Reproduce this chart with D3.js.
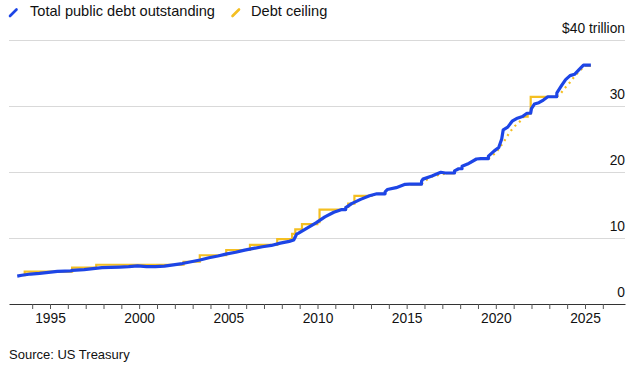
<!DOCTYPE html>
<html>
<head>
<meta charset="utf-8">
<script src="https://cdn.jsdelivr.net/npm/d3@7"></script>
<style>
  html, body { margin: 0; padding: 0; background: #fff; }
  svg { display: block; font-family: "Liberation Sans", Arial, sans-serif; }
</style>
</head>
<body>
<svg id="chart" width="633" height="365"></svg>
<script>
// ---- Data (trillions of US$) ----
const debtDates = ["1993-03","1993-06","1993-12","1994-06","1994-12","1995-06","1995-11","1996-03","1996-04","1996-12",
  "1997-06","1997-12","1998-06","1998-12","1999-06","1999-12","2000-06","2000-12","2001-06","2001-12",
  "2002-06","2002-12","2003-06","2003-12","2004-06","2004-12","2005-06","2005-12","2006-06","2006-12",
  "2007-06","2007-12","2008-06","2008-09","2008-11","2008-12","2009-06","2009-12","2010-06","2010-12",
  "2011-05","2011-08-01","2011-08-04","2011-12","2012-06","2012-12","2013-05","2013-10-16","2013-10-18","2013-12",
  "2014-06","2014-12","2015-03","2015-10-31","2015-11-03","2015-12","2016-06","2016-12","2017-03","2017-09-07",
  "2017-09-09","2017-12","2018-02-08","2018-02-10","2018-06","2018-12","2019-03","2019-08-01","2019-08-03","2019-12",
  "2020-03","2020-05","2020-06","2020-09","2020-12","2021-03","2021-07","2021-10","2021-12-15","2021-12-31",
  "2022-03","2022-06","2022-09","2022-12","2023-01","2023-06-02","2023-06-05","2023-09","2023-12","2024-03",
  "2024-06","2024-09","2024-12","2025-01","2025-05"];
const debtValues = [4.23,4.35,4.54,4.65,4.80,4.95,4.99,5.00,5.10,5.22,
  5.35,5.50,5.55,5.60,5.65,5.77,5.65,5.66,5.73,5.94,
  6.13,6.40,6.67,7.00,7.27,7.60,7.84,8.17,8.42,8.68,
  8.87,9.23,9.49,9.70,10.60,10.70,11.50,12.30,13.20,13.90,
  14.29,14.29,14.60,15.20,15.85,16.40,16.70,16.70,17.00,17.35,
  17.63,18.14,18.15,18.15,18.60,18.92,19.38,19.96,19.85,19.85,
  20.16,20.49,20.50,20.86,21.20,21.97,22.03,22.03,22.40,23.20,
  23.70,25.00,26.40,26.80,27.70,28.10,28.40,28.90,28.90,29.60,
  30.30,30.50,30.90,31.40,31.40,31.40,32.00,33.00,34.00,34.60,
  34.80,35.50,36.20,36.20,36.20];

// Debt ceiling: statutory limit steps (null = suspended)
const ceilingDates = ["1993-04","1993-08","1996-03-29","1997-08-05","2002-06-28","2003-05-27","2004-11-19","2006-03-20",
  "2007-09-29","2008-07-30","2008-10-03","2009-02-17","2009-12-28","2010-02-12","2011-08-02","2011-09-22",
  "2012-01-27","2013-02-04","2013-05-19","2013-10-17","2015-03-16","2015-11-02","2017-03-16",
  "2017-09-08","2019-03-02","2019-08-02","2021-08-01","2021-10-14","2021-12-16","2023-06-03","2025-01-02","2025-05"];
const ceilingValues = [4.37,4.90,5.50,5.95,6.40,7.384,8.184,8.965,
  9.815,10.615,11.315,12.104,12.394,14.294,14.694,15.194,
  16.394,null,16.699,null,18.113,null,19.809,
  null,22.03,null,28.401,28.881,31.381,null,36.10,36.10];

// Debt ceiling while suspended (dotted)
const suspDates = [["2015-11-02","2016-02","2016-06","2017-03-16"],
  ["2019-08-02","2020-01","2020-04","2020-07","2020-10","2021-01","2021-06","2021-08-01"],
  ["2023-06-03","2023-09","2023-11","2024-03","2024-06","2024-12","2025-01-02"]];
const suspValues = [[18.15,18.75,19.30,19.80],
  [22.03,22.90,23.80,24.80,25.90,26.80,27.80,28.40],
  [31.40,32.00,32.60,33.60,34.50,35.90,36.10]];

const yTicks = [0,10,20,30,40];
const yTickLabels = ["0","10","20","30","$40 trillion"];
const xTickYears = d3.range(1994, 2027);
const xLabelYears = [1995,2000,2005,2010,2015,2020,2025];
const legendLabels = ["Total public debt outstanding","Debt ceiling"];
const sourceText = "Source: US Treasury";

// ---- Setup ----
const BLUE = "#1d45e6", YELLOW = "#f4bf22";
const parse = s => s.length === 7 ? d3.timeParse("%Y-%m")(s) : d3.timeParse("%Y-%m-%d")(s);
const svg = d3.select("#chart");

const x = d3.scaleTime().domain([new Date(1995,0,1), new Date(2025,0,1)]).range([50,585]);
x.domain([x.invert(9), x.invert(625)]).range([9,625]);
const y = d3.scaleLinear().domain([0,40]).range([304,40]);

// gridlines + y labels
const g = svg.append("g");
yTicks.forEach((t,i) => {
  if (t > 0) {
    g.append("line").attr("x1",9).attr("x2",625).attr("y1",y(t)).attr("y2",y(t))
      .attr("stroke","#d9d9d9").attr("stroke-width",1).attr("shape-rendering","crispEdges");
  }
  g.append("text").attr("x",625).attr("y",y(t)-7).attr("text-anchor","end")
    .attr("font-size",13.8).attr("fill","#111").text(yTickLabels[i]);
});

// x axis
const xAxis = d3.axisBottom(x)
  .tickValues(xTickYears.map(yr => new Date(yr,0,1)))
  .tickSize(5).tickSizeOuter(0)
  .tickFormat(d => xLabelYears.includes(d.getFullYear()) ? d.getFullYear() : "");
const ax = svg.append("g").attr("transform","translate(0,304)").call(xAxis);
ax.select(".domain").attr("stroke","#333");
ax.selectAll(".tick line").attr("stroke","#555");
ax.selectAll(".tick text").attr("font-size",13.8).attr("fill","#111")
  .attr("font-family","Liberation Sans, Arial, sans-serif").attr("dy","0.95em").attr("y",6);

// ceiling step line
const ceil = ceilingDates.map((d,i) => ({date: parse(d), v: ceilingValues[i]}));
const stepLine = d3.line().x(d => x(d.date)).y(d => y(d.v)).curve(d3.curveStepAfter);
const segs = [];
let cur = [];
ceil.forEach(d => {
  if (d.v === null) { if (cur.length) { cur.push({date: d.date, v: cur[cur.length-1].v}); segs.push(cur); cur = []; } }
  else cur.push(d);
});
if (cur.length) segs.push(cur);
segs.forEach(s => {
  svg.append("path").datum(s).attr("d", stepLine).attr("fill","none")
    .attr("stroke",YELLOW).attr("stroke-width",2.2);
});

// suspended (dotted)
const lineFn = d3.line().x(d => x(d.date)).y(d => y(d.v));
suspDates.forEach((ds,k) => {
  const pts = ds.map((d,i) => ({date: parse(d), v: suspValues[k][i]}));
  svg.append("path").datum(pts).attr("d", lineFn).attr("fill","none")
    .attr("stroke",YELLOW).attr("stroke-width",2.2).attr("stroke-dasharray","2,4");
});

// debt line
const debt = debtDates.map((d,i) => ({date: parse(d), v: debtValues[i]}));
svg.append("path").datum(debt).attr("d", lineFn).attr("fill","none")
  .attr("stroke",BLUE).attr("stroke-width",3.2).attr("stroke-linejoin","round");

// legend
const leg = svg.append("g");
leg.append("line").attr("x1",10).attr("y1",16).attr("x2",16.5).attr("y2",9.5)
  .attr("stroke",BLUE).attr("stroke-width",2.6).attr("stroke-linecap","round");
leg.append("text").attr("x",30).attr("y",15.5).attr("font-size",14.6).attr("fill","#111").text(legendLabels[0]);
leg.append("line").attr("x1",232.5).attr("y1",16).attr("x2",239).attr("y2",9.5)
  .attr("stroke",YELLOW).attr("stroke-width",2.6).attr("stroke-linecap","round");
leg.append("text").attr("x",251).attr("y",15.5).attr("font-size",14.6).attr("fill","#111").text(legendLabels[1]);

// source
svg.append("text").attr("x",9).attr("y",359).attr("font-size",13).attr("fill","#111").text(sourceText);
</script>
</body>
</html>
